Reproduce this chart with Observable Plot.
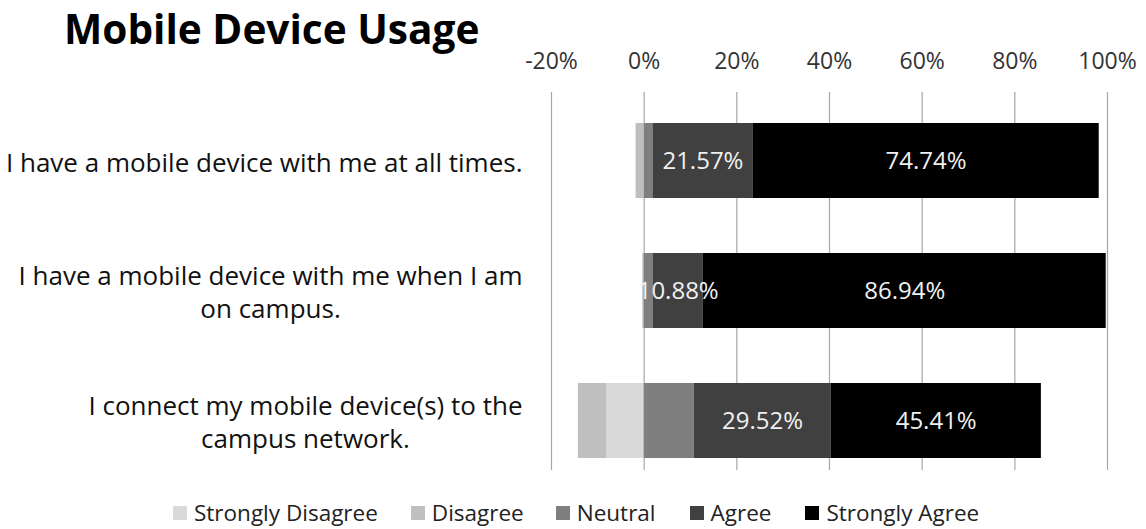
<!DOCTYPE html>
<html>
<head>
<meta charset="utf-8">
<script src="https://cdn.jsdelivr.net/npm/d3@7"></script>
<script src="https://cdn.jsdelivr.net/npm/@observablehq/plot@0.6"></script>
<style>
  html, body { margin: 0; padding: 0; background: #fff; }
  #wrap { position: relative; width: 1146px; height: 529px; overflow: hidden; font-family: "Open Sans", sans-serif; }
  #title { position: absolute; left: 64px; top: 5px; font-size: 40.6px; font-weight: 700; color: #000; white-space: nowrap; line-height: 1.2; }
  #legend { position: absolute; left: 173px; top: 499px; height: 28px; display: flex; align-items: center; font-size: 22.5px; line-height: 1.1; color: #222; white-space: nowrap; }
  .item { display: flex; align-items: center; }
  .sw { width: 14px; height: 14px; margin-right: 7px; }
</style>
</head>
<body>
<div id="wrap">
  <div id="chart"></div>
  <div id="title">Mobile Device Usage</div>
  <div id="legend"></div>
</div>
<script>
const categories = [
  "I have a mobile device with me at all times.",
  "I have a mobile device with me when I am\non campus.",
  "I connect my mobile device(s) to the\ncampus network."
];
const responses = ["Strongly Disagree", "Disagree", "Neutral", "Agree", "Strongly Agree"];
const colors = ["#d9d9d9", "#bfbfbf", "#7f7f7f", "#404040", "#000000"];
const xTicks = [-20, 0, 20, 40, 60, 80, 100];

const stronglyDisagree = [0.1, 0.0, 8.1];
const disagree         = [1.65, 0.3, 6.1];
const neutral          = [1.9, 1.9, 10.8];
const agree            = [21.57, 10.88, 29.52];
const stronglyAgree    = [74.74, 86.94, 45.41];
const labelled = ["Agree", "Strongly Agree"];

const seriesByResponse = [stronglyDisagree, disagree, neutral, agree, stronglyAgree];
const negative = ["Strongly Disagree", "Disagree"];
const data = [];
categories.forEach((c, i) => {
  responses.forEach((r, j) => {
    const v = seriesByResponse[j][i];
    data.push({category: c, response: r, pct: v, value: negative.includes(r) ? -v : v});
  });
});

const H = 497;
const chart = Plot.plot({
  width: 1146,
  height: H,
  marginLeft: 551,
  marginRight: 39,
  marginTop: 92,
  marginBottom: H - 470,
  style: {fontFamily: "'Open Sans', sans-serif", background: "white", color: "#222"},
  x: {domain: [-20, 100], axis: null},
  y: {domain: categories, paddingInner: 0.4253, paddingOuter: 0.161, align: 0.72, axis: null},
  color: {domain: responses, range: colors},
  marks: [
    Plot.ruleX(xTicks, {stroke: "#a6a6a6", strokeWidth: 1.2}),
    Plot.barX(data, Plot.stackX({x: "value", y: "category", fill: "response", order: responses})),
    Plot.text(data, Plot.stackX({
      x: "value", y: "category", z: "response", order: responses,
      text: d => labelled.includes(d.response) ? d.pct.toFixed(2) + "%" : null,
      fill: "#f0f0f0", fontSize: 24
    })),
    Plot.axisX({anchor: "top", ticks: xTicks, tickSize: 0, tickPadding: 24, tickFormat: d => d + "%", fontSize: 23, label: null, color: "#333"}),
    Plot.axisY({anchor: "left", tickSize: 0, tickPadding: 29, fontSize: 26, lineHeight: 1.27, label: null, color: "#111"})
  ]
});
document.getElementById("chart").appendChild(chart);

// center wrapped lines of the category labels relative to each other
const yGroup = chart.querySelector('g[aria-label="y-axis tick label"]');
if (yGroup) {
  yGroup.querySelectorAll("text").forEach(t => {
    const spans = t.querySelectorAll("tspan");
    if (spans.length > 1) {
      const L = Math.max(...Array.from(spans, s => s.getComputedTextLength()));
      t.setAttribute("text-anchor", "middle");
      spans.forEach(s => s.setAttribute("x", -L / 2));
    }
  });
}

const legend = document.getElementById("legend");
const gaps = [33, 32, 34, 34, 0];
responses.forEach((r, j) => {
  const item = document.createElement("div");
  item.className = "item";
  item.style.marginRight = gaps[j] + "px";
  const sw = document.createElement("div");
  sw.className = "sw";
  sw.style.background = colors[j];
  const lab = document.createElement("span");
  lab.textContent = r;
  item.appendChild(sw);
  item.appendChild(lab);
  legend.appendChild(item);
});
</script>
</body>
</html>
